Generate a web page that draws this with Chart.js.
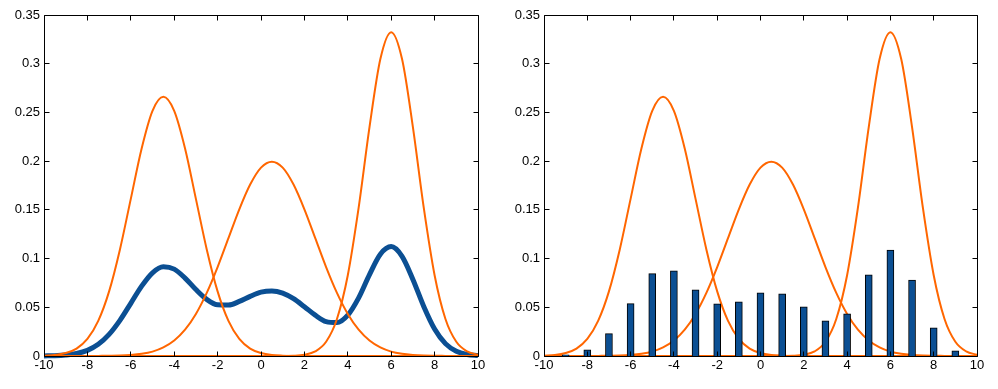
<!DOCTYPE html>
<html>
<head>
<meta charset="utf-8">
<script src="https://cdn.jsdelivr.net/npm/chart.js@4.4.0/dist/chart.umd.min.js"></script>
<style>
  body { margin: 0; background: #fff; }
  #wrap { position: relative; width: 998px; height: 389px; }
  canvas { position: absolute; top: 0; }
</style>
</head>
<body>
<div id="wrap">
  <canvas id="left" width="500" height="389" style="left:0"></canvas>
  <canvas id="right" width="498" height="389" style="left:500px"></canvas>
</div>
<script>
// sample positions of the curves
var xs = [-10, -9.5, -9, -8.5, -8, -7.5, -7, -6.5, -6, -5.5, -5, -4.5, -4, -3.5, -3, -2.5, -2, -1.5, -1, -0.5,
          0, 0.5, 1, 1.5, 2, 2.5, 3, 3.5, 4, 4.5, 5, 5.5, 6, 6.5, 7, 7.5, 8, 8.5, 9, 9.5, 10];

// three orange component curves
var compA = [0.0003, 0.001, 0.003, 0.0076, 0.0175, 0.036, 0.0663, 0.1094, 0.1613, 0.213, 0.2516, 0.266, 0.2516, 0.213,
             0.1613, 0.1094, 0.0663, 0.036, 0.0175, 0.0076, 0.003, 0.001, 0.0003, 0, 0, 0, 0, 0, 0, 0,
             0, 0, 0, 0, 0, 0, 0, 0, 0, 0, 0];
var compB = [0, 0, 0, 0, 0, 0.0001, 0.0002, 0.0004, 0.001, 0.0022, 0.0045, 0.0088, 0.0159, 0.027, 0.0432, 0.0648,
             0.0913, 0.121, 0.1506, 0.176, 0.1934, 0.1995, 0.1934, 0.176, 0.1506, 0.121, 0.0913, 0.0648, 0.0432,
             0.027, 0.0159, 0.0088, 0.0045, 0.0022, 0.001, 0.0004, 0.0002, 0.0001, 0, 0, 0];
var compC = [0, 0, 0, 0, 0, 0, 0, 0, 0, 0, 0, 0, 0, 0, 0, 0, 0, 0, 0, 0, 0, 0,
             0.0001, 0.0003, 0.0013, 0.0047, 0.0146, 0.038, 0.0829, 0.1522, 0.2349, 0.3048, 0.3324, 0.3048,
             0.2349, 0.1522, 0.0829, 0.038, 0.0146, 0.0047, 0.0013];

// thick blue mixture curve (left panel)
var mixture = [0.0001, 0.0003, 0.001, 0.0025, 0.0058, 0.012, 0.0222, 0.0366, 0.0541, 0.0717, 0.0854, 0.0916, 0.0892,
               0.08, 0.0682, 0.0581, 0.0525, 0.0523, 0.056, 0.0612, 0.0655, 0.0668, 0.0646, 0.0588, 0.0506, 0.0419,
               0.0353, 0.0343, 0.042, 0.0597, 0.0836, 0.1045, 0.1123, 0.1023, 0.0786, 0.0509, 0.0277, 0.0127,
               0.0049, 0.0016, 0.0004];

// bars (right panel)
var barX = [-9, -8, -7, -6, -5, -4, -3, -2, -1, 0, 1, 2, 3, 4, 5, 6, 7, 8, 9];
var barY = [0.0012, 0.0063, 0.023, 0.0538, 0.0845, 0.0873, 0.0678, 0.0535, 0.0555, 0.0648, 0.0637, 0.0504,
            0.036, 0.0432, 0.0832, 0.1088, 0.078, 0.0289, 0.0053];

var orange = '#ff6600';
var blue = '#0b4f93';

Chart.defaults.font.family = 'Liberation Sans, Arial, sans-serif';
Chart.defaults.font.size = 13;
Chart.defaults.color = '#000';

function pts(ys, vals) {
  return ys.map(function (x, i) { return { x: x, y: vals[i] }; });
}

function scales() {
  return {
    x: {
      type: 'linear', min: -10, max: 10, offset: false,
      ticks: { stepSize: 2, padding: 2, maxRotation: 0, autoSkip: false },
      grid: { display: false, drawTicks: false },
      border: { display: false },
      afterFit: function (s) { s.height = 33; }
    },
    y: {
      type: 'linear', min: 0, max: 0.35,
      ticks: { stepSize: 0.05, padding: 4, callback: function (v) { return String(+v.toFixed(2)); } },
      grid: { display: false, drawTicks: false },
      border: { display: false },
      afterFit: function (s) { s.width = 44; }
    }
  };
}

// matlab style box with inward ticks on all sides
var boxTicks = {
  id: 'boxTicks',
  afterDatasetsDraw: function (chart) {
    var ctx = chart.ctx, a = chart.chartArea, x = chart.scales.x, y = chart.scales.y;
    var l = Math.floor(a.left) + 0.5, r = Math.floor(a.right) + 0.5;
    var t = Math.floor(a.top) + 0.5, b = Math.floor(a.bottom) + 0.5;
    ctx.save();
    ctx.strokeStyle = '#000';
    ctx.lineWidth = 1;
    ctx.beginPath();
    ctx.moveTo(l, t); ctx.lineTo(r, t); ctx.lineTo(r, b); ctx.lineTo(l, b); ctx.closePath();
    x.ticks.forEach(function (tk) {
      var px = Math.floor(x.getPixelForValue(tk.value)) + 0.5;
      ctx.moveTo(px, b); ctx.lineTo(px, b - 5);
      ctx.moveTo(px, t); ctx.lineTo(px, t + 5);
    });
    y.ticks.forEach(function (tk) {
      var py = Math.floor(y.getPixelForValue(tk.value)) + 0.5;
      ctx.moveTo(l, py); ctx.lineTo(l + 5, py);
      ctx.moveTo(r, py); ctx.lineTo(r - 5, py);
    });
    ctx.stroke();
    ctx.restore();
  }
};

function orangeSet(vals) {
  return {
    type: 'line', data: pts(xs, vals), borderColor: orange, borderWidth: 2,
    pointRadius: 0, cubicInterpolationMode: 'monotone', clip: false
  };
}

var common = {
  responsive: false, animation: false, devicePixelRatio: 1,
  plugins: { legend: { display: false }, tooltip: { enabled: false } }
};

new Chart(document.getElementById('left'), {
  type: 'line',
  data: {
    datasets: [
      orangeSet(compA), orangeSet(compB), orangeSet(compC),
      { data: pts(xs, mixture), borderColor: blue, borderWidth: 5, pointRadius: 0,
        cubicInterpolationMode: 'monotone', clip: false }
    ]
  },
  options: Object.assign({}, common, {
    layout: { padding: { left: 0, right: 22, top: 15, bottom: 0 } },
    scales: scales()
  }),
  plugins: [boxTicks]
});

new Chart(document.getElementById('right'), {
  type: 'line',
  data: {
    datasets: [
      { type: 'bar', data: pts(barX, barY), backgroundColor: blue, borderColor: '#000',
        borderWidth: 1, barThickness: 7 },
      orangeSet(compA), orangeSet(compB), orangeSet(compC)
    ]
  },
  options: Object.assign({}, common, {
    layout: { padding: { left: 0, right: 21, top: 15, bottom: 0 } },
    scales: scales()
  }),
  plugins: [boxTicks]
});
</script>
</body>
</html>
